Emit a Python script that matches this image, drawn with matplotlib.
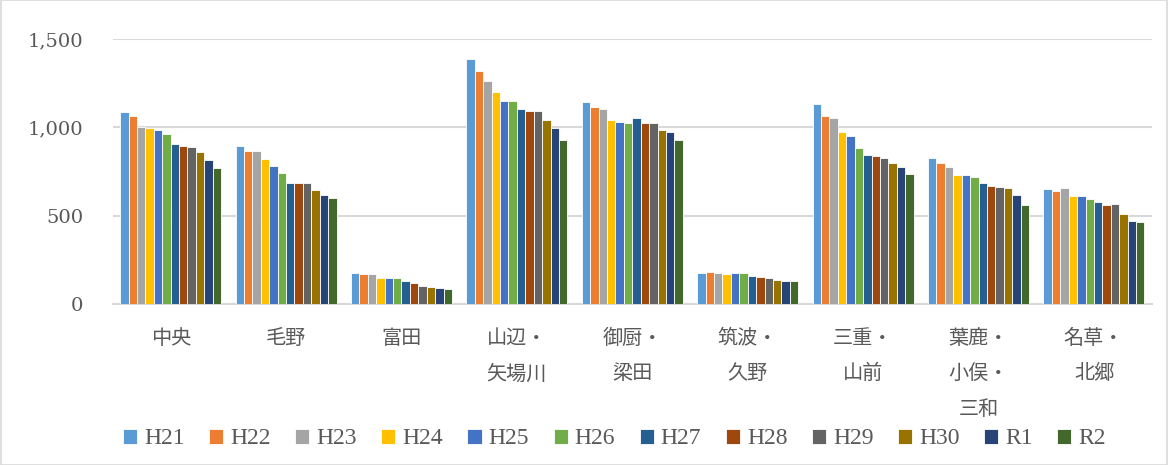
import numpy as np
import matplotlib
matplotlib.use('Agg')
import matplotlib.pyplot as plt
from matplotlib.patches import Rectangle
from matplotlib.ticker import FuncFormatter

plt.rcParams['font.family'] = ['Liberation Serif', 'Noto Sans CJK JP', 'DejaVu Sans']

areas = ['中央', '毛野', '富田', '山辺・\n矢場川', '御厨・\n梁田', '筑波・\n久野',
         '三重・\n山前', '葉鹿・\n小俣・\n三和', '名草・\n北郷']
years = ['H21', 'H22', 'H23', 'H24', 'H25', 'H26', 'H27', 'H28', 'H29', 'H30', 'R1', 'R2']

# one row per area, one column per year
chuo    = [1090, 1067, 1003, 999, 986, 962, 905, 897, 888, 860, 814, 769]
keno    = [895, 867, 867, 824, 780, 742, 684, 683, 683, 646, 616, 599]
tomita  = [178, 168, 168, 145, 145, 148, 132, 121, 100, 96, 92, 83]
yamabe  = [1388, 1320, 1264, 1201, 1150, 1149, 1105, 1092, 1092, 1043, 994, 928]
mikuriya = [1145, 1116, 1105, 1043, 1030, 1027, 1054, 1026, 1024, 986, 975, 929]
tsukuba = [174, 180, 178, 170, 174, 174, 159, 153, 146, 136, 130, 128]
mie     = [1133, 1067, 1052, 973, 950, 884, 844, 837, 827, 799, 775, 735]
hajika  = [827, 799, 776, 731, 731, 722, 686, 669, 663, 659, 618, 561]
nagusa  = [652, 642, 655, 614, 610, 595, 580, 561, 567, 510, 469, 463]

values = np.array([chuo, keno, tomita, yamabe, mikuriya, tsukuba, mie, hajika, nagusa])

colors = ['#5B9BD5', '#ED7D31', '#A5A5A5', '#FFC000', '#4472C4', '#70AD47',
          '#255E91', '#9E480E', '#636363', '#997300', '#264478', '#43682B']
txt = '#595959'
grid = '#D9D9D9'

fig = plt.figure(figsize=(11.68, 4.65), dpi=100)
ax = fig.add_axes([0.0967, 0.346, 0.8893, 0.57])

x = np.arange(len(areas))
bw = 0.875 / len(years)
for j, yr in enumerate(years):
    ax.bar(x - 0.4375 + bw * (j + 0.5), values[:, j], width=bw, color=colors[j],
           edgecolor='white', linewidth=0.6, label=yr, zorder=3)

ax.set_xlim(-0.5, len(areas) - 0.5)
ax.set_ylim(0, 1500)
ax.set_yticks([0, 500, 1000, 1500])
ax.yaxis.set_major_formatter(FuncFormatter(lambda v, p: f'{int(v):,}'))
ax.grid(axis='y', color=grid, linewidth=1.5, zorder=0)
for s in ['top', 'right', 'left']:
    ax.spines[s].set_visible(False)
ax.spines['bottom'].set_color(grid)
ax.spines['bottom'].set_linewidth(1.5)
ax.tick_params(axis='y', length=0, pad=21.5, labelcolor=txt)
for lb in ax.get_yticklabels():
    lb.set_fontfamily('DejaVu Serif')
    lb.set_fontsize(14)
ax.tick_params(axis='x', length=0, pad=17, labelcolor=txt)
ax.set_xticks(x)
ax.set_xticklabels(areas, fontsize=14.5, linespacing=1.92,
                   family=['Noto Sans CJK JP', 'DejaVu Sans'])

handles, labels = ax.get_legend_handles_labels()
fig.legend(handles, labels, loc='center', bbox_to_anchor=(0.526, 0.056), ncol=12,
           frameon=False, fontsize=17, labelcolor=txt, handlelength=0.6, handleheight=0.6,
           handletextpad=0.3, columnspacing=1.03)

fig.patches.append(Rectangle((0.001, 0.001), 0.998, 0.998, transform=fig.transFigure,
                             fill=False, edgecolor=grid, linewidth=1.2))

fig.savefig('out.png', dpi=100)
